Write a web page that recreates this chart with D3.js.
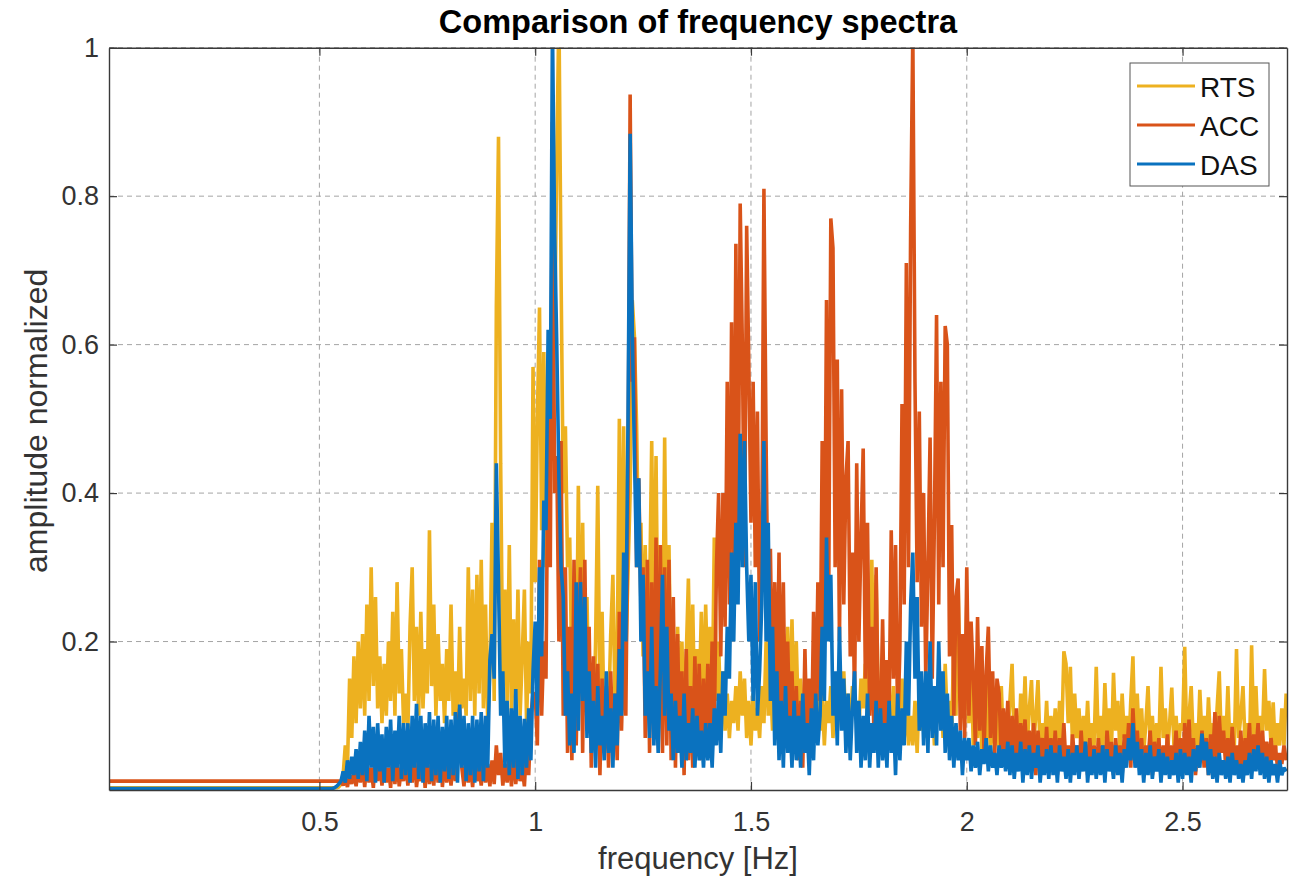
<!DOCTYPE html>
<html>
<head>
<meta charset="utf-8">
<script src="https://cdn.jsdelivr.net/npm/d3@7"></script>
<style>
  body { margin: 0; background: #fff; }
  svg { display: block; }
  text { font-family: "Liberation Sans", Arial, Helvetica, sans-serif; }
</style>
</head>
<body>
<svg id="chart" width="1302" height="884"></svg>
<script>
// ---- data -----------------------------------------------------------------
const seriesNames = ["RTS", "ACC", "DAS"];
const xTicks = [0.5, 1, 1.5, 2, 2.5];
const yTicks = [0.2, 0.4, 0.6, 0.8, 1];
const freqMin = 0.0125;   // first frequency bin (flat part runs from here)
const freqMax = 2.742;
const freqStart = 0.50;   // start of the sampled spectrum grid
const freqStep = 0.005;   // Hz between samples

// normalized amplitude, one row per 0.1 Hz (0.50 ... 2.74 Hz)
const rts = [
  .003,.003,.003,.003,.003,.003,.003,.003,.003,.004,.008,.02,.06,.03,.15,.07,.18,.09,.20,.11,
  .21,.10,.25,.12,.30,.14,.26,.11,.18,.09,.17,.10,.20,.12,.24,.10,.28,.13,.19,.09,
  .13,.08,.22,.30,.12,.22,.10,.24,.11,.19,.13,.35,.14,.25,.10,.21,.12,.17,.09,.19,
  .12,.25,.10,.16,.09,.22,.11,.15,.10,.30,.12,.27,.10,.29,.13,.31,.11,.25,.09,.16,
  .36,.12,.65,.88,.44,.14,.27,.12,.33,.10,.23,.11,.27,.10,.18,.27,.09,.20,.13,.57,
  .28,.50,.65,.35,.59,.30,.45,.50,.70,.60,.85,1.05,.69,.40,.49,.30,.34,.15,.22,.12,
  .41,.14,.36,.12,.26,.09,.14,.07,.20,.41,.11,.24,.08,.15,.10,.21,.29,.12,.17,.50,
  .20,.49,.18,.29,.40,.66,.61,.49,.30,.36,.18,.33,.15,.26,.47,.20,.45,.16,.33,.14,
  .475,.17,.33,.12,.20,.09,.22,.10,.20,.08,.18,.285,.11,.25,.09,.19,.12,.24,.10,.25,
  .14,.22,.10,.34,.12,.20,.09,.16,.08,.13,.07,.12,.09,.14,.08,.16,.10,.15,.07,.12,
  .06,.13,.08,.11,.07,.14,.09,.20,.10,.15,.08,.13,.07,.17,.10,.21,.12,.22,.09,.23,
  .10,.20,.09,.15,.08,.13,.07,.12,.09,.14,.07,.15,.08,.13,.06,.12,.09,.14,.07,.13,
  .08,.12,.10,.16,.08,.13,.07,.14,.10,.12,.08,.15,.11,.17,.09,.22,.31,.12,.29,.11,
  .14,.08,.16,.07,.12,.09,.14,.06,.11,.08,.15,.07,.12,.06,.10,.06,.12,.05,.14,.08,
  .12,.07,.15,.08,.13,.06,.11,.09,.14,.07,.17,.09,.12,.08,.20,.10,.28,.12,.21,.09,
  .25,.09,.18,.06,.13,.07,.15,.05,.12,.06,.15,.05,.11,.06,.13,.05,.14,.06,.10,.07,
  .12,.17,.06,.10,.05,.13,.07,.153,.06,.11,.148,.06,.10,.148,.05,.09,.06,.12,.05,.10,
  .06,.11,.05,.12,.07,.187,.17,.09,.166,.06,.13,.07,.11,.05,.10,.06,.12,.05,.09,.06,
  .166,.06,.10,.05,.144,.07,.11,.05,.158,.08,.12,.05,.13,.07,.10,.05,.12,.18,.06,.13,
  .06,.11,.05,.09,.14,.06,.10,.05,.09,.06,.166,.07,.11,.05,.09,.138,.06,.10,.05,.09,
  .08,.193,.06,.10,.14,.06,.09,.05,.135,.07,.10,.05,.125,.06,.09,.05,.11,.16,.06,.10,
  .06,.14,.05,.09,.06,.19,.07,.10,.14,.06,.09,.05,.195,.07,.14,.06,.10,.07,.163,.08,
  .12,.06,.118,.05,.09,.06,.11,.06,.13
];

const acc = [
  .012,.012,.012,.012,.012,.012,.012,.012,.012,.012,.012,.006,.015,.004,.02,.008,.025,.005,.03,.01,
  .035,.004,.04,.01,.03,.003,.045,.012,.035,.006,.04,.01,.03,.003,.05,.008,.04,.005,.03,.012,
  .04,.006,.035,.01,.05,.004,.03,.012,.045,.003,.04,.008,.035,.006,.05,.01,.07,.004,.04,.01,
  .035,.006,.04,.012,.08,.11,.03,.005,.04,.01,.035,.004,.045,.012,.03,.006,.04,.01,.035,.005,
  .04,.008,.06,.02,.05,.006,.035,.01,.045,.005,.05,.008,.04,.012,.03,.005,.06,.02,.10,.13,
  .13,.06,.31,.10,.20,.15,.50,.30,.90,.40,.45,.20,.47,.10,.30,.05,.22,.04,.31,.06,
  .20,.30,.05,.31,.08,.22,.03,.18,.06,.17,.02,.15,.05,.14,.03,.16,.06,.13,.04,.24,
  .08,.20,.10,.40,.937,.55,.61,.30,.42,.25,.30,.07,.31,.05,.28,.08,.34,.06,.33,.05,
  .30,.06,.31,.04,.26,.03,.21,.05,.16,.02,.19,.04,.14,.03,.18,.05,.17,.04,.15,.06,
  .17,.06,.20,.08,.30,.40,.18,.40,.22,.55,.25,.63,.28,.736,.30,.79,.60,.30,.76,.57,
  .36,.55,.30,.51,.20,.32,.81,.47,.20,.325,.12,.28,.10,.32,.08,.28,.06,.20,.08,.16,
  .05,.14,.04,.12,.03,.19,.06,.15,.05,.24,.10,.28,.12,.47,.20,.66,.25,.77,.73,.30,
  .58,.20,.54,.25,.42,.47,.18,.32,.12,.44,.20,.34,.46,.15,.36,.10,.22,.07,.30,.10,
  .08,.23,.06,.175,.10,.35,.15,.33,.08,.19,.52,.25,.71,.30,.76,1.02,.55,.28,.51,.22,
  .40,.15,.30,.475,.15,.36,.64,.25,.55,.30,.625,.60,.18,.357,.10,.26,.285,.08,.21,.07,
  .30,.10,.227,.154,.06,.233,.08,.194,.05,.16,.22,.07,.16,.05,.15,.13,.04,.11,.05,.12,
  .03,.10,.04,.11,.03,.09,.05,.095,.03,.08,.04,.09,.02,.08,.04,.07,.03,.085,.02,.07,
  .03,.08,.02,.07,.04,.09,.03,.06,.02,.075,.04,.06,.02,.08,.03,.065,.02,.07,.03,.06,
  .02,.07,.03,.06,.02,.08,.04,.065,.02,.07,.03,.06,.02,.075,.04,.09,.03,.11,.05,.08,
  .03,.07,.02,.06,.04,.08,.02,.065,.03,.07,.02,.06,.03,.075,.02,.06,.04,.08,.03,.07,
  .02,.09,.04,.095,.03,.07,.02,.06,.04,.08,.03,.07,.02,.075,.04,.105,.03,.10,.05,.08,
  .03,.07,.02,.085,.04,.06,.03,.08,.02,.07,.04,.09,.03,.075,.05,.09,.03,.08,.04,.065,
  .03,.07,.04,.06,.03,.05,.035,.06,.04
];

const das = [
  .002,.002,.002,.002,.002,.002,.002,.003,.005,.008,.012,.025,.01,.04,.015,.045,.02,.055,.015,.065,
  .02,.08,.012,.10,.03,.085,.01,.09,.025,.075,.01,.085,.03,.095,.012,.08,.03,.10,.015,.09,
  .02,.09,.01,.10,.03,.116,.015,.10,.01,.09,.03,.105,.012,.095,.02,.10,.01,.085,.025,.10,
  .015,.095,.02,.105,.01,.115,.03,.10,.012,.09,.02,.10,.01,.095,.025,.105,.012,.10,.03,.175,
  .21,.15,.44,.28,.10,.16,.03,.12,.02,.11,.03,.136,.015,.10,.02,.096,.03,.11,.04,.16,
  .227,.10,.30,.18,.39,.35,.62,.50,1.03,.75,.60,.42,.30,.26,.10,.16,.06,.13,.05,.28,
  .08,.28,.12,.26,.07,.16,.05,.12,.03,.14,.06,.10,.04,.16,.05,.11,.03,.13,.06,.19,
  .10,.32,.20,.49,.884,.62,.45,.30,.42,.20,.29,.10,.16,.07,.22,.06,.14,.05,.16,.29,
  .10,.22,.08,.13,.04,.12,.05,.10,.03,.13,.04,.09,.05,.11,.03,.10,.04,.08,.03,.09,
  .04,.09,.03,.11,.06,.13,.05,.16,.10,.22,.15,.32,.20,.36,.25,.48,.30,.47,.30,.20,
  .29,.12,.28,.10,.16,.25,.47,.20,.36,.12,.22,.06,.16,.04,.12,.03,.14,.05,.10,.03,
  .12,.04,.10,.03,.13,.05,.09,.02,.11,.04,.13,.06,.10,.22,.12,.34,.20,.29,.10,.16,
  .06,.22,.08,.15,.05,.13,.04,.11,.16,.05,.12,.03,.10,.04,.13,.03,.09,.05,.12,.03,
  .11,.04,.09,.03,.12,.05,.10,.02,.13,.04,.11,.06,.20,.10,.25,.32,.15,.26,.08,.16,
  .06,.16,.05,.20,.07,.14,.06,.20,.08,.16,.05,.13,.04,.10,.03,.09,.04,.08,.02,.07,
  .04,.07,.025,.06,.03,.065,.02,.055,.035,.07,.025,.06,.03,.05,.02,.06,.03,.055,.025,.065,
  .02,.06,.015,.05,.025,.065,.01,.055,.02,.06,.015,.05,.03,.06,.01,.045,.02,.055,.015,.06,
  .02,.05,.01,.06,.025,.045,.015,.055,.01,.05,.02,.06,.015,.05,.025,.065,.01,.045,.02,.055,
  .015,.05,.02,.06,.01,.055,.025,.045,.015,.06,.02,.05,.01,.055,.03,.07,.04,.09,.03,.065,
  .02,.055,.01,.05,.02,.06,.015,.045,.025,.055,.01,.05,.02,.045,.015,.04,.02,.05,.01,.055,
  .015,.05,.02,.045,.01,.055,.025,.06,.03,.076,.04,.065,.02,.055,.015,.045,.01,.05,.02,.04,
  .015,.045,.01,.05,.02,.04,.015,.035,.01,.04,.02,.05,.015,.055,.025,.06,.02,.05,.015,.045,
  .01,.04,.02,.035,.01,.04,.02,.03,.025
];

const seriesValues = [rts, acc, das];

// ---- styles ---------------------------------------------------------------
const lineColors = ["#EDB120", "#D95319", "#0A72BF"];
const plot = { left: 109, right: 1287, top: 47.7, bottom: 790 };

// ---- chart ----------------------------------------------------------------
const svg = d3.select("#chart");

const x = d3.scaleLinear().domain([freqMin, freqMax]).range([plot.left, plot.right]);
const y = d3.scaleLinear().domain([0, 1]).range([plot.bottom, plot.top]);

// grid
const grid = svg.append("g")
  .attr("stroke", "#8f8f8f")
  .attr("stroke-width", 1)
  .attr("stroke-dasharray", "5,4")
  .attr("opacity", 0.8);
grid.selectAll("line.gx").data(xTicks).join("line")
  .attr("x1", d => x(d)).attr("x2", d => x(d))
  .attr("y1", plot.top).attr("y2", plot.bottom);
grid.selectAll("line.gy").data(yTicks).join("line")
  .attr("x1", plot.left).attr("x2", plot.right)
  .attr("y1", d => y(d)).attr("y2", d => y(d));

// spectra
svg.append("clipPath").attr("id", "plot-clip")
  .append("rect")
  .attr("x", plot.left).attr("y", plot.top)
  .attr("width", plot.right - plot.left).attr("height", plot.bottom - plot.top);

const line = d3.line().x(d => x(d[0])).y(d => y(d[1]));

const spectra = svg.append("g").attr("clip-path", "url(#plot-clip)");
seriesValues.forEach((vals, k) => {
  const pts = [[freqMin, vals[0]]].concat(
    vals.map((v, i) => [freqStart + i * freqStep, v])
  );
  spectra.append("path")
    .datum(pts)
    .attr("fill", "none")
    .attr("stroke", lineColors[k])
    .attr("stroke-width", 3.6)
    .attr("stroke-linejoin", "bevel")
    .attr("d", line);
});

// axes (box with inward ticks on all sides)
const axisColor = "#3a3a3a";
function styleAxis(g) {
  g.select(".domain").attr("stroke", axisColor).attr("stroke-width", 1.4);
  g.selectAll(".tick line").attr("stroke", axisColor).attr("stroke-width", 1.2);
  g.selectAll(".tick text")
    .attr("fill", "#333")
    .style("font-size", "27px")
    .style("font-family", '"Liberation Sans", Arial, sans-serif');
}

svg.append("g")
  .attr("transform", `translate(0,${plot.bottom})`)
  .call(d3.axisBottom(x).tickValues(xTicks).tickSize(-8).tickSizeOuter(0)
    .tickPadding(22).tickFormat(d => String(d)))
  .call(styleAxis);

svg.append("g")
  .attr("transform", `translate(0,${plot.top})`)
  .call(d3.axisTop(x).tickValues(xTicks).tickSize(-8).tickSizeOuter(0).tickFormat(""))
  .call(styleAxis);

svg.append("g")
  .attr("transform", `translate(${plot.left},0)`)
  .call(d3.axisLeft(y).tickValues(yTicks).tickSize(-8).tickSizeOuter(0)
    .tickPadding(10).tickFormat(d => String(d)))
  .call(styleAxis);

svg.append("g")
  .attr("transform", `translate(${plot.right},0)`)
  .call(d3.axisRight(y).tickValues(yTicks).tickSize(-8).tickSizeOuter(0).tickFormat(""))
  .call(styleAxis);

// titles
svg.append("text")
  .attr("x", (plot.left + plot.right) / 2).attr("y", 33)
  .attr("text-anchor", "middle")
  .attr("fill", "#000")
  .style("font-size", "32.5px").style("font-weight", "bold")
  .text("Comparison of frequency spectra");

svg.append("text")
  .attr("x", (plot.left + plot.right) / 2).attr("y", 869)
  .attr("text-anchor", "middle")
  .attr("fill", "#333")
  .style("font-size", "31px")
  .text("frequency [Hz]");

svg.append("text")
  .attr("transform", `translate(47,${(plot.top + plot.bottom) / 2 + 2}) rotate(-90)`)
  .attr("text-anchor", "middle")
  .attr("fill", "#333")
  .style("font-size", "32px")
  .text("amplitude normalized");

// legend
const legend = svg.append("g").attr("transform", "translate(1130,63)");
legend.append("rect")
  .attr("width", 139).attr("height", 123)
  .attr("fill", "#fff").attr("stroke", "#555").attr("stroke-width", 1);
seriesNames.forEach((name, k) => {
  const ly = 23 + k * 39;
  legend.append("line")
    .attr("x1", 7).attr("x2", 65).attr("y1", ly).attr("y2", ly)
    .attr("stroke", lineColors[k]).attr("stroke-width", 3);
  legend.append("text")
    .attr("x", 70).attr("y", ly + 10.5)
    .attr("fill", "#111")
    .style("font-size", "28px")
    .text(name);
});
</script>
</body>
</html>
